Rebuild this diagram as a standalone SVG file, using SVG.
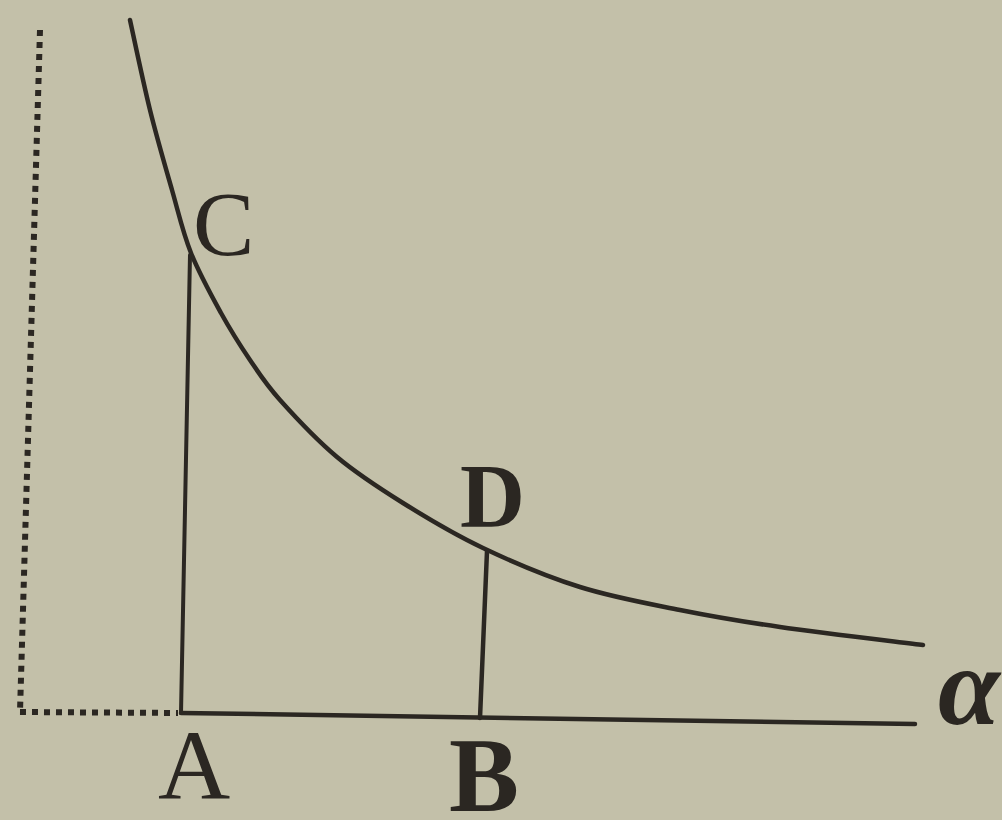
<svg xmlns="http://www.w3.org/2000/svg" width="1002" height="820" viewBox="0 0 1002 820">
<style>
.ink{fill:none;stroke:#2b2722;stroke-linecap:round}
.dot{fill:none;stroke:#2b2722;stroke-width:6;stroke-dasharray:6 6}
.lbl{font-family:"Liberation Serif","DejaVu Serif",serif;fill:#2b2722}
</style>
<rect width="1002" height="820" fill="#c3c0a9"/>
<g id="connectors">
<path id="curve" class="ink" stroke-width="4.5" d="M130,20 C133.3,35 143,81.7 150,110 C157,138.3 165.2,166.2 172,190 C178.8,213.8 182.8,232.5 191,253 C199.2,273.5 211.2,295.2 221,313 C230.8,330.8 240.2,345.5 250,360 C259.8,374.5 265.5,383.8 280,400 C294.5,416.2 316.5,439.8 337,457 C357.5,474.2 378.7,487.8 403,503 C427.3,518.2 453.5,534 483,548 C512.5,562 547.2,576.7 580,587 C612.8,597.3 646.7,603.3 680,610 C713.3,616.7 739.5,621.2 780,627 C820.5,632.8 899.2,642 923,645"/>
<path id="dotted-vertical" class="dot" d="M40,30 L20,712"/>
<path id="dotted-horizontal" class="dot" d="M20,712 L178,713"/>
<path id="AC" class="ink" stroke-width="4" d="M190,255 L181,713"/>
<path id="baseline" class="ink" stroke-width="4.5" d="M181,713 L915,724"/>
<path id="BD" class="ink" stroke-width="4.5" d="M487,551 L480,718"/>
</g>
<g id="node-C"><text class="lbl" x="193" y="255" font-size="92">C</text></g>
<g id="node-D"><text class="lbl" x="460" y="527" font-size="90" font-weight="bold">D</text></g>
<g id="node-A"><text class="lbl" x="194" y="799" font-size="100" text-anchor="middle">A</text></g>
<g id="node-B"><text class="lbl" x="484" y="811" font-size="105" text-anchor="middle" font-weight="bold">B</text></g>
<g id="node-alpha"><text class="lbl" x="938" y="724" font-size="112" font-style="italic" font-weight="bold">α</text></g>
</svg>
